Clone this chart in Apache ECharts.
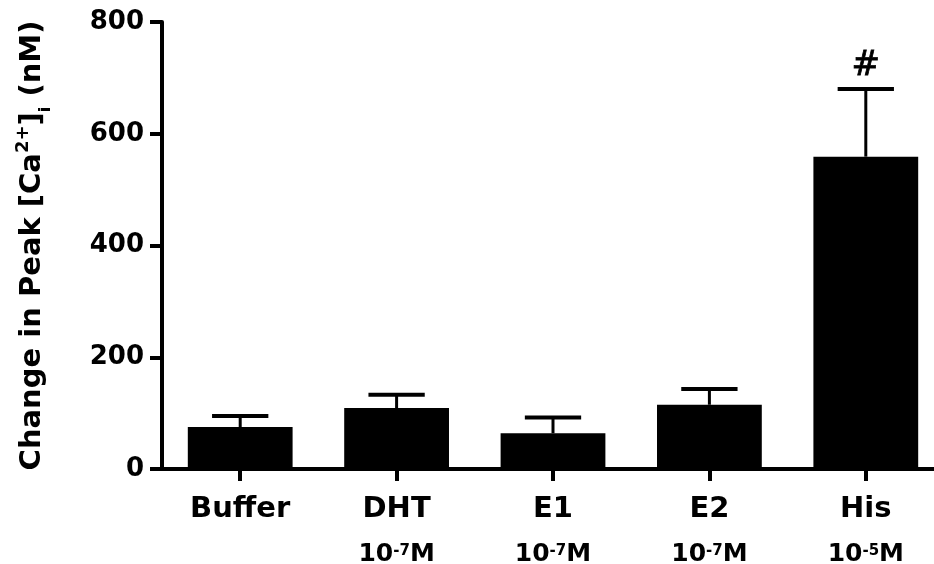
<!DOCTYPE html>
<html>
<head>
<meta charset="utf-8">
<script src="https://cdn.jsdelivr.net/npm/echarts@6/dist/echarts.min.js"></script>
<style>
  html, body { margin: 0; padding: 0; background: #fff; }
  #chart { width: 934px; height: 564px; }
</style>
</head>
<body>
<div id="chart"></div>
<script>
const categories = ['Buffer', 'DHT', 'E1', 'E2', 'His'];
const exponents = [null, '-7', '-7', '-7', '-5'];
const meanValues = [75, 109, 64, 115, 559];
const errorUpper = [95, 133, 92, 143, 680];
const annotations = ['', '', '', '', '#'];
const yMin = 0, yMax = 800, yInterval = 200;

const FONT = '"DejaVu Sans", "Liberation Sans", Arial, sans-serif';

const chart = echarts.init(document.getElementById('chart'), null, { renderer: 'canvas' });

const errorData = categories.map((c, i) => [i, meanValues[i], errorUpper[i]]);

const option = {
  backgroundColor: '#ffffff',
  animation: false,
  grid: { left: 162, right: -10, top: 22, bottom: 95, containLabel: false, outerBoundsMode: 'none' },
  xAxis: {
    type: 'category',
    data: categories,
    axisLine: { show: true, lineStyle: { color: '#000', width: 4 } },
    axisTick: { show: true, alignWithLabel: true, length: 12, lineStyle: { color: '#000', width: 4 } },
    axisLabel: {
      interval: 0,
      hideOverlap: false,
      margin: 18,
      color: '#000',
      fontFamily: FONT,
      fontWeight: 'bold',
      fontSize: 29,
      lineHeight: 45,
      formatter: function (value, index) {
        const e = exponents[index];
        if (e === null || e === undefined) return value;
        return value + '\n{b|10}{sup|' + e + '}{b|M}';
      },
      rich: {
        b: { fontFamily: FONT, fontWeight: 'bold', fontSize: 25, color: '#000', lineHeight: 45 },
        sup: { fontFamily: FONT, fontWeight: 'bold', fontSize: 15, color: '#000', verticalAlign: 'top', padding: [12, 0, 0, 0], lineHeight: 45 }
      }
    },
    splitLine: { show: false }
  },
  yAxis: {
    type: 'value',
    min: yMin,
    max: yMax,
    interval: yInterval,
    name: 'Change in Peak [Ca{sup|2+}]{sub|i} (nM)',
    nameLocation: 'middle',
    nameRotate: 90,
    nameGap: 112,
    nameTextStyle: {
      color: '#000',
      fontFamily: FONT,
      fontWeight: 'bold',
      fontSize: 29,
      lineHeight: 36,
      rich: {
        sup: { fontFamily: FONT, fontWeight: 'bold', fontSize: 18, color: '#000', verticalAlign: 'top', lineHeight: 36 },
        sub: { fontFamily: FONT, fontWeight: 'bold', fontSize: 16, color: '#000', verticalAlign: 'bottom', lineHeight: 36, padding: [0, 0, -4, 0] }
      }
    },
    axisLine: { show: true, lineStyle: { color: '#000', width: 4 } },
    axisTick: { show: true, length: 12, lineStyle: { color: '#000', width: 4 } },
    axisLabel: {
      margin: 18,
      color: '#000',
      fontFamily: FONT,
      fontWeight: 'bold',
      fontSize: 26
    },
    splitLine: { show: false }
  },
  series: [
    {
      type: 'bar',
      data: meanValues,
      barWidth: '67%',
      itemStyle: { color: '#000' },
      z: 2
    },
    {
      type: 'custom',
      data: errorData,
      z: 3,
      renderItem: function (params, api) {
        const idx = api.value(0);
        const base = api.coord([idx, api.value(1)]);
        const top = api.coord([idx, api.value(2)]);
        const half = api.size([1, 0])[0] * 0.18;
        const children = [
          { type: 'line', shape: { x1: base[0], y1: base[1], x2: top[0], y2: top[1] }, style: { stroke: '#000', lineWidth: 3 } },
          { type: 'line', shape: { x1: top[0] - half, y1: top[1], x2: top[0] + half, y2: top[1] }, style: { stroke: '#000', lineWidth: 4 } }
        ];
        const note = annotations[params.dataIndex];
        if (note) {
          children.push({
            type: 'text',
            style: {
              text: note, x: top[0], y: top[1] - 6,
              align: 'center', verticalAlign: 'bottom',
              fontFamily: FONT, fontSize: 34, fill: '#000',
              stroke: '#000', lineWidth: 0.8
            }
          });
        }
        return { type: 'group', children: children };
      }
    }
  ]
};

chart.setOption(option);
</script>
</body>
</html>
